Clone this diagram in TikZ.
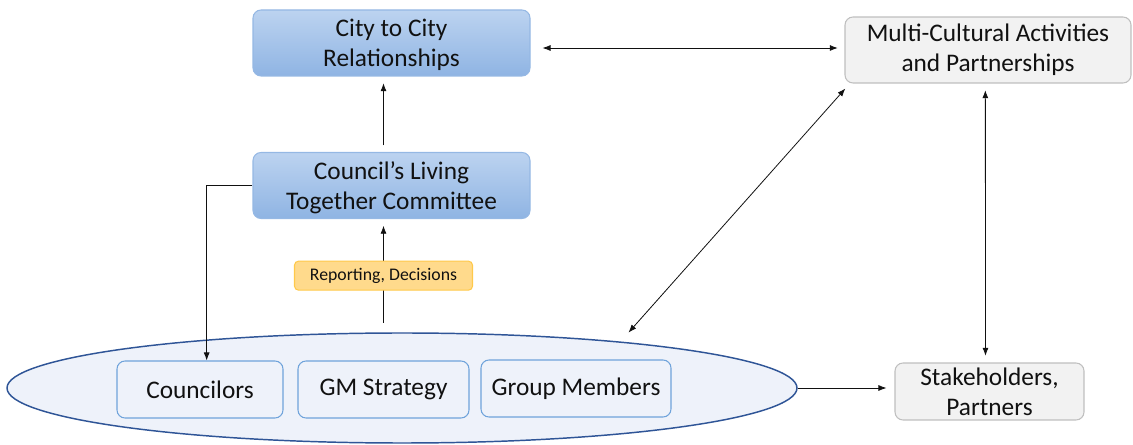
\documentclass[tikz,border=0pt]{standalone}
\usepackage{fontspec}
\setmainfont{Carlito}
\usetikzlibrary{arrows.meta,shapes.geometric,calc}
\definecolor{blueTop}{HTML}{BCD3F0}
\definecolor{blueBot}{HTML}{8FB4E3}
\definecolor{blueEdge}{HTML}{95B8E4}
\definecolor{greyFill}{HTML}{F2F2F2}
\definecolor{greyEdge}{HTML}{BFBFBF}
\definecolor{orangeFill}{HTML}{FFDA8C}
\definecolor{orangeEdge}{HTML}{FFC94A}
\definecolor{teamFill}{HTML}{EEF2FA}
\definecolor{teamEdge}{HTML}{2F5597}
\definecolor{memberEdge}{HTML}{6FA3DB}
\definecolor{ink}{HTML}{111111}
\tikzset{
  bigtext/.style={font=\fontsize{19}{22.5}\selectfont},
  bluebox/.style={draw=blueEdge, line width=0.8pt, rounded corners=6pt,
    top color=blueTop, bottom color=blueBot, align=center, text=ink, bigtext,
    minimum width=207.75pt, minimum height=49.5pt},
  greybox/.style={draw=greyEdge, line width=0.8pt, rounded corners=6pt,
    fill=greyFill, align=center, text=ink, bigtext},
  memberbox/.style={draw=memberEdge, line width=0.8pt, rounded corners=6pt,
    fill=teamFill, text=ink, bigtext, minimum height=42.75pt},
  tagbox/.style={draw=orangeEdge, line width=0.8pt, rounded corners=3pt,
    fill=orangeFill, text=ink, font=\fontsize{13.3}{15}\selectfont,
    minimum width=133.5pt, minimum height=21.75pt},
  link/.style={draw=ink, line width=0.6pt},
  tip/.style={-{Latex[length=6pt,width=4.5pt]}},
  tips/.style={{Latex[length=6pt,width=4.5pt]}-{Latex[length=6pt,width=4.5pt]}},
}
\begin{document}
\begin{tikzpicture}[x=0.75pt,y=-0.75pt]
\useasboundingbox (0,0) rectangle (1133,445);

% main ellipse holding the working group
\node[ellipse, draw=teamEdge, line width=1.1pt, fill=teamFill,
      minimum width=592.5pt, minimum height=82.5pt, inner sep=0pt] (team) at (402,388) {};

% boxes
\node[bluebox, text depth=-2pt] (city) at (391.5,43) {City to City\\Relationships};
\node[bluebox, text depth=-2pt] (council) at (391.5,185.5) {Council’s Living\\Together Committee};
\node[greybox, minimum width=214.5pt, minimum height=49.5pt] (multi) at (988,50) {Multi-Cultural Activities\\and Partnerships};
\node[greybox, minimum width=141.75pt, minimum height=42.75pt] (stake) at (989.5,391.5) {Stakeholders,\\Partners};

\node[memberbox, minimum width=124.5pt] (councilors) at (200,389.5) {Councilors};
\node[memberbox, minimum width=128.25pt] (gm) at (383.5,389.5) {GM Strategy};
\node[memberbox, minimum width=142.5pt] (group) at (576,388.5) {Group Members};

% connectors
\draw[link, tip, shorten <=5pt, shorten >=5pt] ([xshift=-6pt]council.north) -- ([xshift=-6pt]city.south);
\draw[link, tip, shorten <=7pt, shorten >=5pt] ([xshift=-6pt]council.south |- team.north) -- ([xshift=-6pt]council.south)
  node[tagbox, pos=0.5] (tag) {Reporting, Decisions};
\draw[link, tip] (council.west) -| ([xshift=5pt]councilors.north);
\draw[link, tips, shorten <=9pt, shorten >=5pt] ([yshift=-3.75pt]city.east) -- ([yshift=-3.75pt]city.east -| multi.west);
\draw[link, tips, shorten <=5pt, shorten >=9pt] ([xshift=4pt]multi.south west) -- (team.12);
\draw[link, tips, shorten <=5pt, shorten >=5pt] ([xshift=-2pt]multi.south) -- ([xshift=-3pt]stake.north);
\draw[link, tip, shorten >=6pt] (team.east) -- (team.east -| stake.west);
\end{tikzpicture}
\end{document}
